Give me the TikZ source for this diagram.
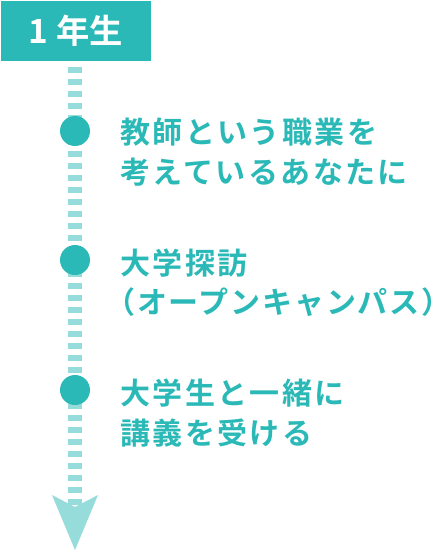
\documentclass[tikz,border=0pt]{standalone}
\usepackage{fontspec}
\newfontfamily\jpfont{Noto Sans CJK JP}[BoldFont={Noto Sans CJK JP Bold}]
\newfontfamily\jpspaced{Noto Sans CJK JP}[BoldFont={Noto Sans CJK JP Bold}, LetterSpace=8]
\usepackage{tikz}
\usetikzlibrary{arrows.meta,positioning}
\usepackage{xcolor}
\definecolor{teal1}{HTML}{2AB9B7}
\definecolor{teal2}{HTML}{96DCDA}

\begin{document}
\begin{tikzpicture}[
    x=0.75pt, y=-0.75pt,
    yearbox/.style={rectangle, fill=teal1, text=white,
                    minimum width=112.5pt, minimum height=45pt,
                    inner sep=0pt, font=\jpfont\bfseries\fontsize{25pt}{29pt}\selectfont},
    timeline/.style={draw=teal2, line width=10.5pt,
                     dash pattern=on 4.5pt off 4.5pt, dash phase=4.5pt,
                     -{Stealth[length=41.25pt, width=34.5pt, inset=9pt, line width=0pt]}},
    dot/.style={circle, fill=teal1, minimum size=22.5pt, inner sep=0pt},
    desc/.style={anchor=west, inner sep=0pt, align=left, text=teal1,
                 font=\jpspaced\bfseries\fontsize{22.5pt}{29.5pt}\selectfont}
]
\useasboundingbox (0,0) rectangle (441,551);
\node[yearbox] (year) at (76,31) {1\kern0.25em 年生};
\coordinate (end) at (75,550);
\draw[timeline] (year.south -| end) -- (end);

\foreach \n/\y in {1/131, 2/260, 3/390}
    \node[dot] (d\n) at (75,\y) {};

\node[desc] (t1) at (120,152) {教師という職業を\\考えているあなたに};
\node[desc] (t2) at (120,283) {大学探訪\\{\addfontfeature{LetterSpace=6}\kern-0.5em（オープンキャンパス）\kern-0.6em}};
\node[desc] (t3) at (120,413) {大学生と一緒に\\講義を受ける};
\end{tikzpicture}
\end{document}
